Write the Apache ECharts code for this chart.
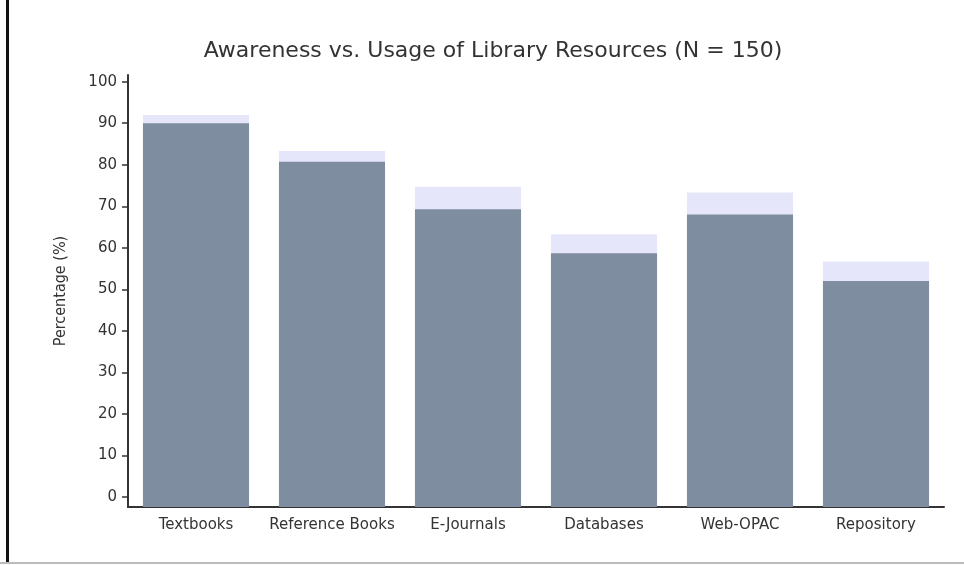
<!DOCTYPE html>
<html>
<head>
<meta charset="utf-8">
<script src="https://cdn.jsdelivr.net/npm/echarts@6/dist/echarts.min.js"></script>
<style>
html,body{margin:0;padding:0;background:#fff;}
#chart{width:964px;height:565px;}
</style>
</head>
<body>
<div id="chart"></div>
<script>
const categories = ['Textbooks', 'Reference Books', 'E-Journals', 'Databases', 'Web-OPAC', 'Repository'];
const awareness = [92, 83.3, 74.7, 63.3, 73.3, 56.7];
const usage = [90, 80.7, 69.3, 58.7, 68, 52];
const yTicks = [0, 10, 20, 30, 40, 50, 60, 70, 80, 90, 100];
// axis extent: the x-axis floor sits a little below 0, as in the reference
const Y_MIN = -2.408;
const Y_MAX = 101.6176;
// fills each usage bar from 0 down to the offset x-axis floor
const floorPad = categories.map(() => Y_MIN);

const chart = echarts.init(document.getElementById('chart'));
const font = 'DejaVu Sans';
const usageColor = '#7f8da1';
chart.setOption({
  animation: false,
  title: {
    text: 'Awareness vs. Usage of Library Resources (N = 150)',
    left: 488,
    textAlign: 'center',
    top: 35,
    textStyle: { fontFamily: font, fontSize: 22, fontWeight: 'normal', color: '#333' }
  },
  grid: { left: 128, right: 20, top: 75, bottom: 58 },
  xAxis: {
    type: 'category',
    data: categories,
    splitLine: { show: false },
    axisLine: { onZero: false, lineStyle: { color: '#333', width: 2 } },
    axisTick: { alignWithLabel: true, length: 6, lineStyle: { color: '#333', width: 1.5 } },
    axisLabel: { interval: 0, fontFamily: font, fontSize: 15, color: '#333', margin: 11 }
  },
  yAxis: {
    type: 'value',
    min: Y_MIN,
    max: Y_MAX,
    name: 'Percentage (%)',
    nameLocation: 'middle',
    nameGap: 59,
    nameTextStyle: { fontFamily: 'DejaVu Sans Condensed', fontSize: 16, color: '#333' },
    splitLine: { show: false },
    axisLine: { show: true, onZero: false, lineStyle: { color: '#333', width: 2 } },
    axisTick: { show: true, length: 6, customValues: yTicks, lineStyle: { color: '#333', width: 1.5 } },
    axisLabel: { fontFamily: font, fontSize: 15, color: '#333', margin: 11, customValues: yTicks }
  },
  series: [
    {
      name: 'Awareness', type: 'bar', data: awareness,
      barGap: '-100%', barCategoryGap: '22%',
      itemStyle: { color: '#e6e6fa' }, z: 1
    },
    {
      name: 'floor', type: 'bar', data: floorPad,
      barGap: '-100%', barCategoryGap: '22%',
      itemStyle: { color: usageColor }, z: 2, silent: true
    },
    {
      name: 'Usage', type: 'bar', data: usage,
      barGap: '-100%', barCategoryGap: '22%',
      itemStyle: { color: usageColor }, z: 3
    }
  ],
  graphic: [
    { type: 'rect', left: 6, top: 0, shape: { width: 3, height: 563 }, style: { fill: '#111' } },
    { type: 'rect', left: 0, top: 562, shape: { width: 964, height: 2 }, style: { fill: '#bbb' } }
  ]
});
</script>
</body>
</html>
